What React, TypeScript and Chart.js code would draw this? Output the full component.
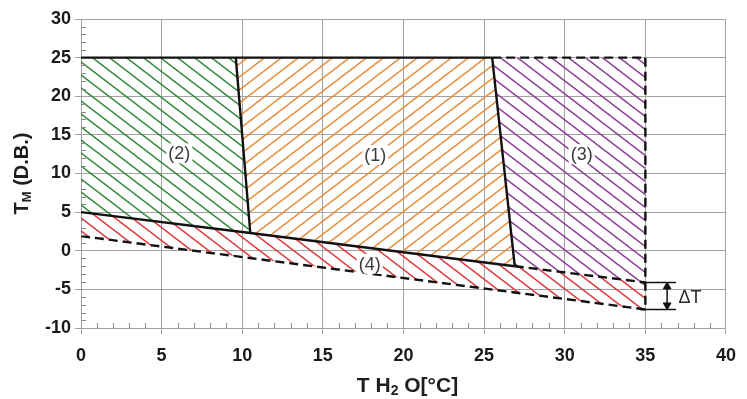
import React, { useEffect, useRef } from 'react';
import { Chart, registerables } from 'chart.js';

Chart.register(...registerables);

// ---- axes ----
const X_MIN = 0;
const X_MAX = 40;
const Y_MIN = -10;
const Y_MAX = 30;
const MAJOR_STEP = 5;

// ---- hatched regions (polygons) ----
const region2X = [0, 9.6, 10.5, 0];
const region2Y = [25, 25, 2.3, 5];
const region1X = [9.6, 25.5, 26.9, 10.5];
const region1Y = [25, 25, -2.0, 2.3];
const region3X = [25.5, 35, 35, 26.9];
const region3Y = [25, 25, -4.1, -2.0];
const region4X = [0, 35, 35, 0];
const region4Y = [5, -4.1, -7.6, 1.9];

// ---- solid boundary lines ----
const topSolidX = [0, 25.5];
const topSolidY = [25, 25];
const bound21X = [9.6, 10.5];
const bound21Y = [25, 2.3];
const bound13X = [25.5, 26.9];
const bound13Y = [25, -2.0];
const lowerSolidX = [0, 10.5, 26.9];
const lowerSolidY = [5, 2.3, -2.0];

// ---- dashed boundary lines ----
const topDashX = [25.5, 35];
const topDashY = [25, 25];
const rightDashX = [35, 35];
const rightDashY = [25, -7.6];
const lowerDashX = [26.9, 35];
const lowerDashY = [-2.0, -4.1];
const coldDashX = [0, 35];
const coldDashY = [1.9, -7.6];

// ---- delta T annotation ----
const dTopX = [34.7, 36.9];
const dTopY = [-4.1, -4.1];
const dBotX = [34.7, 36.9];
const dBotY = [-7.6, -7.6];
const arrowX = [36.35, 36.35];
const arrowY = [-4.65, -7.05];
const deltaLabel = 'ΔT';
const deltaLabelPos = [37.05, -6.1];

// ---- region labels ----
const regionLabels = ['(1)', '(2)', '(3)', '(4)'];
const regionLabelX = [18.25, 6.1, 31.05, 17.9];
const regionLabelY = [12.4, 12.6, 12.5, -1.7];

const FONT = '"Liberation Sans", Arial, sans-serif';

const pts = (xs: number[], ys: number[]) => xs.map((x, i) => ({ x, y: ys[i] }));

function makeHatch(color: string, dir: '/' | '\\', w: number, h: number, lw: number) {
  const c = document.createElement('canvas');
  c.width = w;
  c.height = h;
  const g = c.getContext('2d')!;
  g.strokeStyle = color;
  g.lineWidth = lw;
  for (let k = -1; k <= 1; k++) {
    g.beginPath();
    if (dir === '/') {
      g.moveTo(k * w - w, 2 * h);
      g.lineTo(k * w + 2 * w, -h);
    } else {
      g.moveTo(k * w - w, -h);
      g.lineTo(k * w + 2 * w, 2 * h);
    }
    g.stroke();
  }
  return g.createPattern(c, 'repeat')!;
}

const decorPlugin = {
  id: 'decor',
  afterDraw(chart: any) {
    const { ctx, chartArea, scales } = chart;
    const xs = scales.x;
    const ys = scales.y;
    ctx.save();
    // minor inward ticks
    ctx.strokeStyle = '#8a8a8a';
    ctx.lineWidth = 1;
    xs.ticks.forEach((t: any) => {
      if (t.value % MAJOR_STEP !== 0) {
        const px = Math.round(xs.getPixelForValue(t.value)) + 0.5;
        ctx.beginPath();
        ctx.moveTo(px, chartArea.bottom);
        ctx.lineTo(px, chartArea.bottom - 5);
        ctx.stroke();
      }
    });
    ys.ticks.forEach((t: any) => {
      if (t.value % MAJOR_STEP !== 0) {
        const py = Math.round(ys.getPixelForValue(t.value)) + 0.5;
        ctx.beginPath();
        ctx.moveTo(chartArea.left, py);
        ctx.lineTo(chartArea.left + 5, py);
        ctx.stroke();
      }
    });

    // region labels with white background
    ctx.font = `18px ${FONT}`;
    ctx.textAlign = 'center';
    ctx.textBaseline = 'middle';
    regionLabels.forEach((lab, i) => {
      const px = xs.getPixelForValue(regionLabelX[i]);
      const py = ys.getPixelForValue(regionLabelY[i]);
      const w = ctx.measureText(lab).width;
      ctx.fillStyle = '#ffffff';
      ctx.fillRect(px - w / 2 - 2, py - 10, w + 4, 20);
      ctx.fillStyle = '#3a3a3a';
      ctx.fillText(lab, px, py + 1);
    });

    // delta T label
    ctx.textAlign = 'left';
    ctx.fillStyle = '#2a2a2a';
    ctx.fillText(deltaLabel, xs.getPixelForValue(deltaLabelPos[0]), ys.getPixelForValue(deltaLabelPos[1]));

    // x axis title: T H2 O[°C]
    const big = `bold 21px ${FONT}`;
    const small = `bold 14px ${FONT}`;
    const xParts: [string, string, number][] = [
      ['T H', big, 0],
      ['2', small, 5],
      [' O[°C]', big, 0],
    ];
    const measure = (parts: [string, string, number][]) =>
      parts.reduce((s, p) => {
        ctx.font = p[1];
        return s + ctx.measureText(p[0]).width;
      }, 0);
    const cx = (chartArea.left + chartArea.right) / 2 + 4;
    const xTitleY = 386;
    let x0 = cx - measure(xParts) / 2;
    ctx.fillStyle = '#1e1e1e';
    ctx.textBaseline = 'middle';
    ctx.textAlign = 'left';
    xParts.forEach((p) => {
      ctx.font = p[1];
      ctx.fillText(p[0], x0, xTitleY + p[2]);
      x0 += ctx.measureText(p[0]).width;
    });

    // y axis title: T_M (D.B.)
    const yBig = `bold 20px ${FONT}`;
    const ySmall = `bold 13px ${FONT}`;
    const yParts: [string, string, number][] = [
      ['T', yBig, 0],
      ['M', ySmall, 5],
      [' (D.B.)', yBig, 0],
    ];
    ctx.translate(22, (chartArea.top + chartArea.bottom) / 2);
    ctx.rotate(-Math.PI / 2);
    let y0 = -measure(yParts) / 2;
    yParts.forEach((p) => {
      ctx.font = p[1];
      ctx.fillText(p[0], y0, p[2]);
      y0 += ctx.measureText(p[0]).width;
    });
    ctx.restore();
  },
};

export default function App() {
  const ref = useRef<HTMLCanvasElement>(null);

  useEffect(() => {
    document.body.style.margin = '0';
    const canvas = ref.current!;
    const hatch = (c: string, d: '/' | '\\') => makeHatch(c, d, 17, 13, 1.4);

    const fillSet = (xs: number[], ys: number[], pattern: CanvasPattern) => ({
      data: pts(xs, ys),
      backgroundColor: pattern,
      borderWidth: 0,
      pointRadius: 0,
      fill: 'shape',
      order: 10,
    });
    const lineSet = (xs: number[], ys: number[], dashed: boolean, width = 2.4) => ({
      data: pts(xs, ys),
      borderColor: '#111111',
      borderWidth: width,
      borderDash: dashed ? [9, 5] : [],
      pointRadius: 0,
      fill: false,
      order: 1,
    });

    const gridCol = (c: any) => (c.tick && c.tick.value % MAJOR_STEP === 0 ? '#a3a3a3' : 'rgba(0,0,0,0)');

    const chart = new Chart(canvas, {
      type: 'line',
      data: {
        datasets: [
          fillSet(region2X, region2Y, hatch('#348a3c', '\\')),
          fillSet(region1X, region1Y, hatch('#e68c3a', '/')),
          fillSet(region3X, region3Y, hatch('#8c3d96', '\\')),
          fillSet(region4X, region4Y, hatch('#dc3a3c', '\\')),
          lineSet(topSolidX, topSolidY, false),
          lineSet(bound21X, bound21Y, false),
          lineSet(bound13X, bound13Y, false),
          lineSet(lowerSolidX, lowerSolidY, false),
          lineSet(topDashX, topDashY, true),
          lineSet(rightDashX, rightDashY, true),
          lineSet(lowerDashX, lowerDashY, true),
          lineSet(coldDashX, coldDashY, true),
          lineSet(dTopX, dTopY, false, 1.5),
          lineSet(dBotX, dBotY, false, 1.5),
          {
            data: pts(arrowX, arrowY),
            borderColor: '#111111',
            borderWidth: 1.5,
            pointStyle: 'triangle',
            pointRotation: [0, 180],
            pointRadius: 4.5,
            pointBackgroundColor: '#111111',
            pointBorderColor: '#111111',
            pointBorderWidth: 1,
            fill: false,
            order: 1,
          } as any,
        ] as any,
      },
      options: {
        animation: false,
        responsive: false,
        devicePixelRatio: 1,
        layout: { padding: { top: 19, right: 16, left: 0, bottom: 0 } },
        plugins: { legend: { display: false }, tooltip: { enabled: false } },
        elements: { line: { tension: 0 } },
        scales: {
          x: {
            type: 'linear',
            min: X_MIN,
            max: X_MAX,
            afterFit: (s: any) => {
              s.height = 71;
            },
            ticks: {
              stepSize: 1,
              autoSkip: false,
              maxRotation: 0,
              padding: 11,
              color: '#1a1a1a',
              font: { family: FONT, size: 18, weight: 'bold' },
              callback: (v: any) => (Number(v) % MAJOR_STEP === 0 ? String(v) : ''),
            },
            grid: {
              color: gridCol,
              tickColor: gridCol,
              tickLength: 6,
              lineWidth: 1,
            },
            border: { color: '#a3a3a3', width: 1 },
          },
          y: {
            type: 'linear',
            min: Y_MIN,
            max: Y_MAX,
            afterFit: (s: any) => {
              s.width = 81;
            },
            ticks: {
              stepSize: 1,
              autoSkip: false,
              padding: 4,
              color: '#1a1a1a',
              font: { family: FONT, size: 18, weight: 'bold' },
              callback: (v: any) => (Number(v) % MAJOR_STEP === 0 ? String(v) : ''),
            },
            grid: {
              color: gridCol,
              tickColor: gridCol,
              tickLength: 6,
              lineWidth: 1,
            },
            border: { color: '#a3a3a3', width: 1 },
          },
        },
      } as any,
      plugins: [decorPlugin],
    });
    return () => chart.destroy();
  }, []);

  return (
    <div style={{ width: 747, height: 399 }}>
      <canvas ref={ref} width={747} height={399} style={{ display: 'block' }} />
    </div>
  );
}
